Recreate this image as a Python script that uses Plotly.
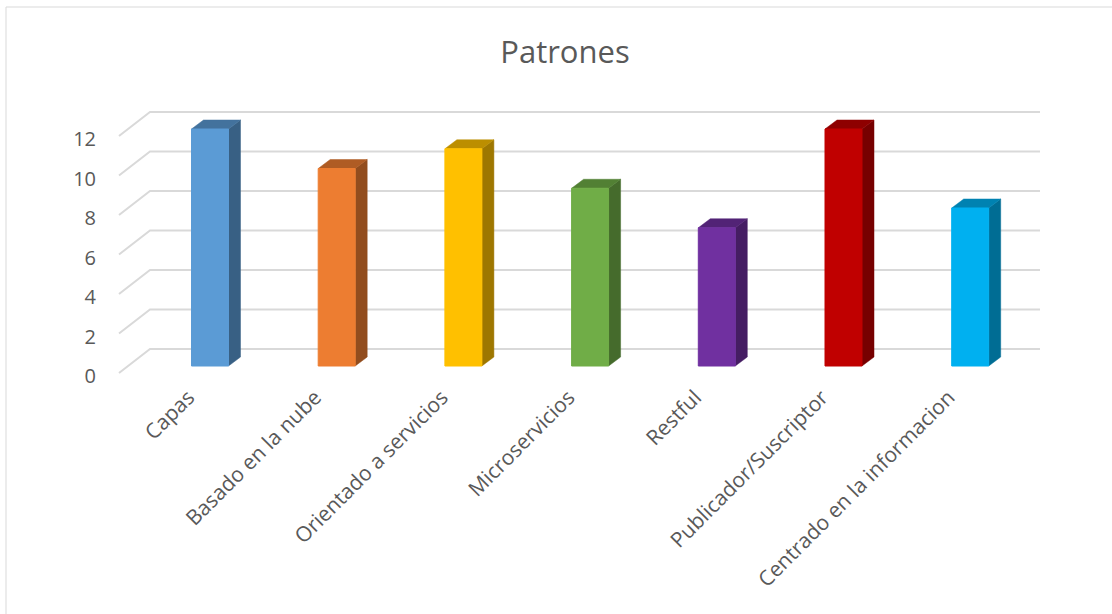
import plotly.graph_objects as go

categories = ["Capas", "Basado en la nube", "Orientado a servicios", "Microservicios",
              "Restful", "Publicador/Suscriptor", "Centrado en la informacion"]
values = [12, 10, 11, 9, 7, 12, 8]
front_colors = ["#5B9BD5", "#ED7D31", "#FFC000", "#70AD47", "#7030A0", "#C00000", "#00B0F0"]
y_ticks = [0, 2, 4, 6, 8, 10, 12]
title_text = "Patrones"

# geometry (pixel -> data unit conversions)
PX_X = 126.7   # px per category
PX_Y = 19.75   # px per value unit
W, H = 1112, 614
ML, MR, MT, MB = 100, 52, 100, 234
x0_px = 210.0   # pixel of category 0 centre
y0_px = 366.0   # pixel of value 0 (bar front face)

xr = [(ML - x0_px) / PX_X, (W - MR - x0_px) / PX_X]
yr = [(y0_px - (H - MB)) / PX_Y, (y0_px - MT) / PX_Y]

bar_w = 37 / PX_X
ddx, ddy = 12 / PX_X, 9 / PX_Y          # bar depth
front_off_x, front_off_y = -9 / PX_X, -7 / PX_Y   # front plane vs bar face
wall_dx, wall_dy = 31 / PX_X, 24 / PX_Y           # floor depth to back wall
grid_left = (119 - x0_px) / PX_X
grid_right = (1040 - x0_px) / PX_X


def shade(hexc, f):
    hexc = hexc.lstrip("#")
    r, g, b = (int(hexc[i:i + 2], 16) for i in (0, 2, 4))
    return "#%02X%02X%02X" % (int(r * f), int(g * f), int(b * f))


fig = go.Figure()

# gridlines (front diagonal + back wall)
gx, gy = [], []
for v in y_ticks:
    yf = v + front_off_y
    gx += [grid_left, grid_left + wall_dx, grid_right, None]
    gy += [yf, yf + wall_dy, yf + wall_dy, None]
fig.add_trace(go.Scatter(x=gx, y=gy, mode="lines", line=dict(color="#D9D9D9", width=2),
                         hoverinfo="skip", showlegend=False))

for i, (cat, v, col) in enumerate(zip(categories, values, front_colors)):
    l, r = i - bar_w / 2, i + bar_w / 2
    # side face
    fig.add_trace(go.Scatter(x=[r, r + ddx, r + ddx, r, r], y=[0, ddy, v + ddy, v, 0],
                             fill="toself", fillcolor=shade(col, 0.62), mode="lines",
                             line=dict(width=0.5, color=shade(col, 0.62)),
                             hoverinfo="skip", showlegend=False))
    # top face
    fig.add_trace(go.Scatter(x=[l, l + ddx, r + ddx, r, l], y=[v, v + ddy, v + ddy, v, v],
                             fill="toself", fillcolor=shade(col, 0.74), mode="lines",
                             line=dict(width=0.5, color=shade(col, 0.74)),
                             hoverinfo="skip", showlegend=False))
    # front face
    fig.add_trace(go.Scatter(x=[l, r, r, l, l], y=[0, 0, v, v, 0],
                             fill="toself", fillcolor=col, mode="lines",
                             line=dict(width=1, color=col), name=cat,
                             hovertemplate=f"{cat}: {v}<extra></extra>", showlegend=False))

fig.update_layout(
    width=W, height=H,
    margin=dict(l=ML, r=MR, t=MT, b=MB),
    paper_bgcolor="white", plot_bgcolor="white",
    font=dict(family="Open Sans, sans-serif", color="#595959"),
    title=dict(text=title_text, x=565 / W, xref="container", xanchor="center",
               y=1 - 52 / H, yanchor="middle", font=dict(size=31, color="#595959")),
    xaxis=dict(range=xr, showgrid=False, zeroline=False, showline=False,
               tickmode="array", tickvals=[i - 0.17 for i in range(len(categories))],
               ticktext=categories, tickangle=-45, ticks="", tickfont=dict(size=21, color="#595959"),
               fixedrange=True),
    yaxis=dict(range=yr, showgrid=False, zeroline=False, showline=False,
               tickmode="array", tickvals=[v + front_off_y - 3 / PX_Y for v in y_ticks],
               ticktext=[str(v) for v in y_ticks], ticks="", ticklabelstandoff=3,
               tickfont=dict(size=20, color="#595959"), fixedrange=True),
    shapes=[dict(type="rect", xref="paper", yref="paper",
                 x0=(6 - ML) / (W - ML - MR), x1=(1125 - ML) / (W - ML - MR),
                 y0=((H - MB) - 630) / (H - MT - MB), y1=((H - MB) - 7) / (H - MT - MB),
                 line=dict(color="#D9D9D9", width=1), layer="below")],
)

fig.write_html("out.html", config={"displayModeBar": False},
               post_script="document.body.style.margin='0px';")
